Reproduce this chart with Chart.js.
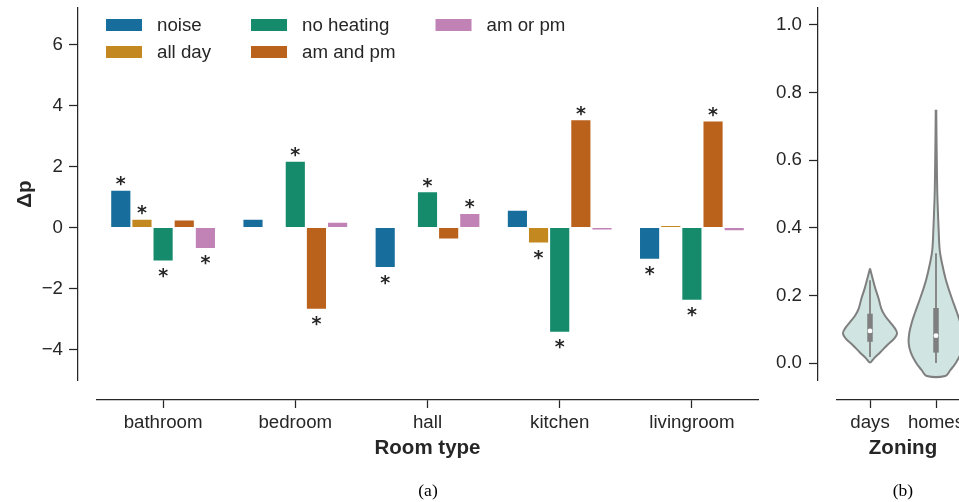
<!DOCTYPE html>
<html>
<head>
<meta charset="utf-8">
<script src="https://cdn.jsdelivr.net/npm/chart.js@4/dist/chart.umd.min.js"></script>
<style>
  html, body { margin: 0; padding: 0; background: #ffffff; }
  #wrap { position: relative; width: 959px; height: 502px; overflow: hidden; background: #ffffff; }
  #rooms { position: absolute; left: 0; top: 0; }
  #zoning { position: absolute; left: 760px; top: 0; }
  .cap {
    position: absolute; top: 480px; line-height: 20px;
    font-family: 'Liberation Serif', 'Times New Roman', serif; font-size: 17.5px; color: #000;
    transform: translateX(-50%); white-space: nowrap;
  }
</style>
</head>
<body>
<div id="wrap">
  <canvas id="rooms" width="770" height="502"></canvas>
  <canvas id="zoning" width="220" height="502"></canvas>
  <div class="cap" style="left:428px">(a)</div>
  <div class="cap" style="left:903px">(b)</div>
</div>
<script>
// ---- (a) change in p per room type and heating schedule ----
const rooms = ['bathroom', 'bedroom', 'hall', 'kitchen', 'livingroom'];
const noise      = [ 1.24,  0.29, -1.33,  0.58, -1.06];
const allDay     = [ 0.29,  0.02,  0.00, -0.52,  0.08];
const noHeating  = [-1.11,  2.19,  1.19, -3.45, -2.40];
const amAndPm    = [ 0.26, -2.70, -0.39,  3.55,  3.51];
const amOrPm     = [-0.70,  0.19,  0.48, -0.10, -0.12];
// significance markers (1 = starred)
const noiseSig     = [1, 0, 1, 0, 1];
const allDaySig    = [1, 0, 0, 1, 0];
const noHeatingSig = [1, 1, 1, 1, 1];
const amAndPmSig   = [0, 1, 0, 1, 1];
const amOrPmSig    = [1, 0, 1, 0, 0];

// ---- (b) zoning distributions ----
const zones = ['days', 'homes'];
const daysLevels    = [0.280, 0.250, 0.221, 0.191, 0.162, 0.142, 0.122, 0.102, 0.088, 0.073, 0.053, 0.033, 0.014, 0.002];
const daysHalfWidth = [0.000, 0.040, 0.080, 0.130, 0.170, 0.220, 0.300, 0.380, 0.410, 0.370, 0.260, 0.160, 0.060, 0.000];
const homesLevels    = [0.749, 0.680, 0.600, 0.500, 0.394, 0.335, 0.296, 0.246, 0.197, 0.148, 0.118, 0.089, 0.059, 0.030, 0.000, -0.020, -0.038];
const homesHalfWidth = [0.004, 0.007, 0.012, 0.020, 0.040, 0.056, 0.090, 0.150, 0.230, 0.320, 0.370, 0.405, 0.414, 0.380, 0.300, 0.220, 0.140];
const q1          = [0.063, 0.031];
const q3          = [0.146, 0.163];
const whiskerLow  = [0.018, 0.000];
const whiskerHigh = [0.245, 0.325];
const medians     = [0.095, 0.081];

const TEXT = '#262626';
const EDGE = '#7f7f7f';
const VIOLIN_FILL = 'rgb(208,229,225)';
const SANS = "'Liberation Sans', Arial, sans-serif";
Chart.defaults.font.family = SANS;
Chart.defaults.color = TEXT;

// invisible axis used to push the visible spine away from the plot area
function spacer(size, horizontal) {
  return {
    type: 'linear', display: true, position: horizontal ? 'bottom' : 'left', weight: 0,
    ticks: { display: false }, grid: { display: false }, border: { display: false },
    afterFit: s => { if (horizontal) { s.height = size; } else { s.width = size; } }
  };
}

// fixed-width value axis whose end labels do not push the plot area inwards
function fitValueAxis(width) {
  return s => { s.width = width; s.paddingTop = 0; s.paddingBottom = 0; };
}

const minus = v => (v < 0 ? '\u2212' + Math.abs(v) : String(v));

const asteriskPlugin = {
  id: 'significance',
  afterDatasetsDraw(chart) {
    const ctx = chart.ctx;
    ctx.save();
    ctx.font = "bold 19px 'DejaVu Sans', sans-serif";
    ctx.fillStyle = TEXT;
    ctx.textAlign = 'center';
    ctx.textBaseline = 'alphabetic';
    const m = ctx.measureText('*');
    const mid = (m.actualBoundingBoxAscent - m.actualBoundingBoxDescent) / 2;
    chart.data.datasets.forEach((d, i) => {
      const meta = chart.getDatasetMeta(i);
      d.significant.forEach((s, j) => {
        if (!s) return;
        const bar = meta.data[j];
        const cy = d.data[j] >= 0 ? bar.y - 8.5 : bar.y + 11.5;
        ctx.fillText('*', bar.x, cy + mid);
      });
    });
    ctx.restore();
  }
};

const legendPlugin = {
  id: 'columnLegend',
  afterDraw(chart) {
    const { ctx, chartArea } = chart;
    const ds = chart.data.datasets;
    const rows = 2, swW = 36, swH = 12, textGap = 15, colGap = 40, rowH = 27;
    ctx.save();
    ctx.font = '18.7px ' + SANS;
    ctx.textBaseline = 'middle';
    ctx.textAlign = 'left';
    let x = chartArea.left + 9;
    for (let c = 0; c * rows < ds.length; c++) {
      const items = ds.slice(c * rows, c * rows + rows);
      let maxW = 0;
      items.forEach((d, r) => {
        const yc = chartArea.top + 17 + r * rowH;
        ctx.fillStyle = d.backgroundColor;
        ctx.fillRect(x, yc - swH / 2, swW, swH);
        ctx.fillStyle = TEXT;
        ctx.fillText(d.label, x + swW + textGap, yc + 0.5);
        maxW = Math.max(maxW, ctx.measureText(d.label).width);
      });
      x += swW + textGap + maxW + colGap;
    }
    ctx.restore();
  }
};

const barSeries = [
  { label: 'noise',      data: noise,     significant: noiseSig,     color: '#176d9c' },
  { label: 'all day',    data: allDay,    significant: allDaySig,    color: '#c38820' },
  { label: 'no heating', data: noHeating, significant: noHeatingSig, color: '#158b6b' },
  { label: 'am and pm',  data: amAndPm,   significant: amAndPmSig,   color: '#ba611b' },
  { label: 'am or pm',   data: amOrPm,    significant: amOrPmSig,    color: '#c182b5' }
];

new Chart(document.getElementById('rooms'), {
  type: 'bar',
  data: {
    labels: rooms,
    datasets: barSeries.map(s => ({
      label: s.label, data: s.data, significant: s.significant,
      backgroundColor: s.color, borderColor: 'rgba(255,255,255,0.55)', borderWidth: 1,
      xAxisID: 'x', yAxisID: 'y'
    }))
  },
  options: {
    responsive: false, animation: false, devicePixelRatio: 1,
    layout: { padding: { top: 8, right: 12, bottom: 41, left: 0 } },
    plugins: { legend: { display: false }, tooltip: { enabled: false } },
    datasets: { bar: { categoryPercentage: 0.8, barPercentage: 1 } },
    scales: {
      x: {
        type: 'category', position: 'bottom', weight: 1, offset: true,
        grid: { display: true, drawOnChartArea: false, offset: false, tickLength: 8, tickWidth: 1.25, tickColor: TEXT },
        border: { display: true, color: TEXT, width: 1.25 },
        ticks: { color: TEXT, font: { size: 18.7 }, padding: 4, maxRotation: 0, autoSkip: false },
        title: { display: true, text: 'Room type', color: TEXT, font: { size: 20.5, weight: 'bold' }, padding: { top: 0, bottom: 0 } },
        afterFit: s => { s.height = 61; }
      },
      xGap: spacer(20, true),
      y: {
        type: 'linear', position: 'left', weight: 1, min: -5, max: 7.2,
        ticks: { stepSize: 2, includeBounds: false, color: TEXT, font: { size: 18.7 }, padding: 6, callback: v => minus(v) },
        grid: { display: true, drawOnChartArea: false, tickLength: 9, tickWidth: 1.25, tickColor: TEXT },
        border: { display: true, color: TEXT, width: 1.25 },
        title: { display: true, text: 'Δp', color: TEXT, font: { size: 20.5, weight: 'bold' }, padding: { top: 13, bottom: 0 } },
        afterFit: fitValueAxis(78)
      },
      yGap: spacer(19, false)
    }
  },
  plugins: [asteriskPlugin, legendPlugin]
});

// violin outline: right side top->bottom, then left side back up
function outline(center, levels, halfWidth) {
  const pts = [];
  for (let k = 0; k < levels.length; k++) pts.push({ x: center + halfWidth[k], y: levels[k] });
  for (let k = levels.length - 1; k >= 0; k--) {
    if (halfWidth[k] > 0 || k === 0) pts.push({ x: center - halfWidth[k], y: levels[k] });
  }
  return pts;
}

const violinShapes = [
  outline(0, daysLevels, daysHalfWidth),
  outline(1, homesLevels, homesHalfWidth)
];

const zoneDatasets = [];
violinShapes.forEach(pts => zoneDatasets.push({
  data: pts, borderColor: EDGE, borderWidth: 2, backgroundColor: VIOLIN_FILL,
  fill: 'shape', tension: 0.35, pointRadius: 0, borderJoinStyle: 'round', order: 3
}));
zones.forEach((z, i) => {
  zoneDatasets.push({
    data: [{ x: i, y: whiskerLow[i] }, { x: i, y: whiskerHigh[i] }],
    borderColor: EDGE, borderWidth: 1.8, pointRadius: 0, fill: false, tension: 0, order: 2
  });
  zoneDatasets.push({
    data: [{ x: i, y: q1[i] }, { x: i, y: q3[i] }],
    borderColor: EDGE, borderWidth: 5.5, borderCapStyle: 'butt', pointRadius: 0, fill: false, tension: 0, order: 1
  });
});
zoneDatasets.push({
  data: medians.map((m, i) => ({ x: i, y: m })),
  showLine: false, pointRadius: 2.4, pointBackgroundColor: '#ffffff', pointBorderWidth: 0, order: 0
});

new Chart(document.getElementById('zoning'), {
  type: 'line',
  data: { datasets: zoneDatasets },
  options: {
    responsive: false, animation: false, devicePixelRatio: 1,
    layout: { padding: { top: 8, right: 11, bottom: 41, left: 0 } },
    plugins: { legend: { display: false }, tooltip: { enabled: false } },
    scales: {
      x: {
        type: 'linear', position: 'bottom', weight: 1, min: -0.5, max: 1.5,
        afterBuildTicks: s => { s.ticks = zones.map((_, i) => ({ value: i })); },
        grid: { display: true, drawOnChartArea: false, tickLength: 8, tickWidth: 1.25, tickColor: TEXT },
        border: { display: true, color: TEXT, width: 1.25 },
        ticks: { color: TEXT, font: { size: 18.7 }, padding: 4, maxRotation: 0, autoSkip: false, callback: v => zones[v] },
        title: { display: true, text: 'Zoning', color: TEXT, font: { size: 20.5, weight: 'bold' }, padding: { top: 0, bottom: 0 } },
        afterFit: s => { s.height = 61; }
      },
      xGap: spacer(20, true),
      y: {
        type: 'linear', position: 'left', weight: 1, min: -0.05, max: 1.05,
        ticks: { stepSize: 0.2, includeBounds: false, color: TEXT, font: { size: 18.7 }, padding: 7, callback: v => v.toFixed(1) },
        grid: { display: true, drawOnChartArea: false, tickLength: 9, tickWidth: 1.25, tickColor: TEXT },
        border: { display: true, color: TEXT, width: 1.25 },
        afterFit: fitValueAxis(58)
      },
      yGap: spacer(19, false)
    }
  }
});
</script>
</body>
</html>
